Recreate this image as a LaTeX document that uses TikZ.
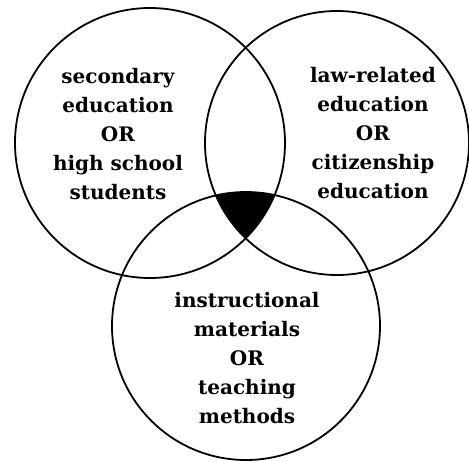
\documentclass[tikz,border=0pt]{standalone}
\usepackage{fontspec}
\setmainfont{DejaVu Serif}
\begin{document}
\begin{tikzpicture}[x=1pt, y=-1pt,
        venn/.style={circle, draw, line width=1.8pt, inner sep=0pt},
        venn_text/.style={align=center, font=\bfseries\fontsize{20}{29}\selectfont}]
        \useasboundingbox (0,0) rectangle (469,461);

        \coordinate (sec_c) at (150,143);
        \coordinate (law_c) at (337,143);
        \coordinate (mat_c) at (246,326);

        % shaded overlap of all three sets
        \begin{scope}
            \clip (sec_c) circle[radius=135pt];
            \clip (law_c) circle[radius=132pt];
            \fill[black] (mat_c) circle[radius=134pt];
        \end{scope}

        \node at (sec_c) [venn, minimum size=270pt] (sec_circle) {};
        \node at (law_c) [venn, minimum size=264pt] (law_circle) {};
        \node at (mat_c) [venn, minimum size=268pt] (mat_circle) {};

        \node at (118,134) [venn_text] (sec_text) {secondary\\education\\OR\\high school\\students};
        \node at (373,133) [venn_text] (law_text) {law-related\\education\\OR\\citizenship\\education};
        \node at (247,358) [venn_text] (mat_text) {instructional\\materials\\OR\\teaching\\methods};
\end{tikzpicture}
\end{document}
